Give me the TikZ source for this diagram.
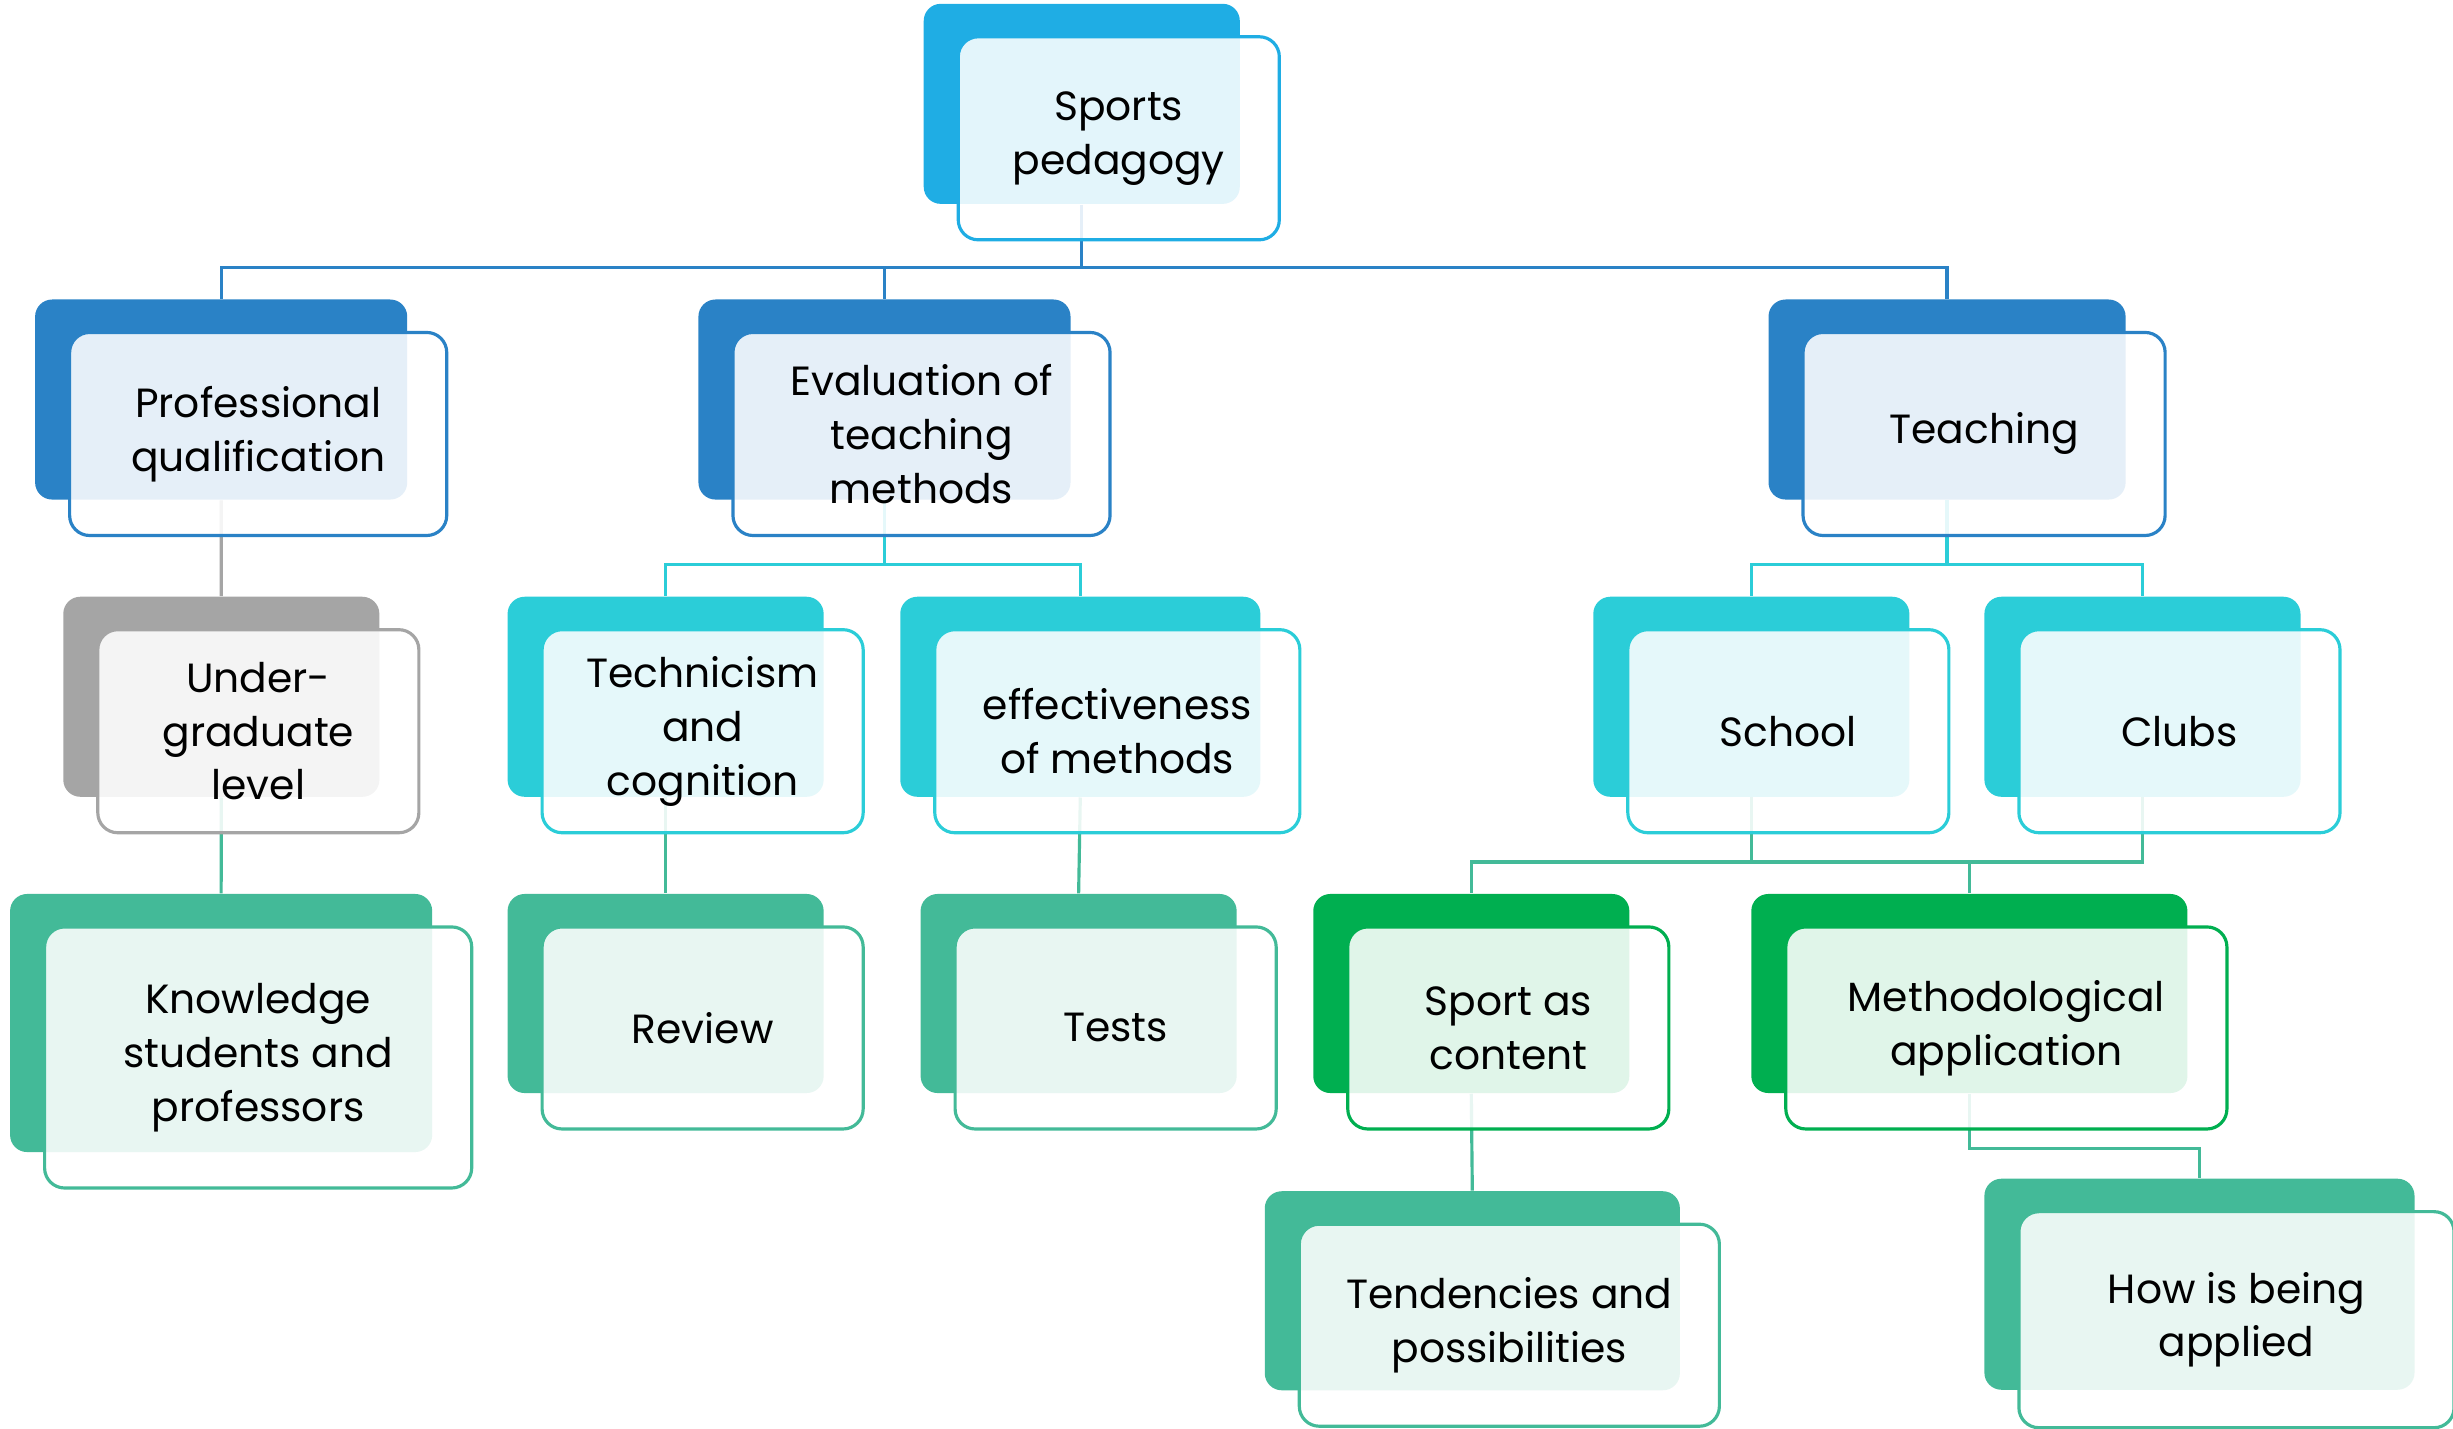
\documentclass[tikz,border=0pt]{standalone}
\usepackage{fontspec}
\setmainfont{Poppins}
\usepackage{tikz}

\definecolor{skyblue}{HTML}{1FADE4}
\definecolor{deepblue}{HTML}{2A82C6}
\definecolor{midgray}{HTML}{A5A5A5}
\definecolor{aqua}{HTML}{2BCDD8}
\definecolor{seagreen}{HTML}{43BA98}
\definecolor{leafgreen}{HTML}{00AF50}

\begin{document}
\begin{tikzpicture}[x=0.015645cm, y=-0.015645cm,
        back/.style={fill=#1, rounded corners=.17cm, anchor=north west, inner sep=0pt},
        front/.style={draw=#1, line width=.9pt, fill=white, fill opacity=.88, text opacity=1,
            rounded corners=.2cm, anchor=north west, inner sep=0pt, align=center,
            font=\fontsize{11.6}{15.3}\selectfont},
        link/.style={draw=#1, line width=.9pt}]

            \useasboundingbox (0,0) rectangle (1568,913);

            % back plates
            \node[back=skyblue, minimum width=3.16cm, minimum height=2cm] (sportsB) at (590,2) {};
            \node[back=deepblue, minimum width=3.72cm, minimum height=2cm] (profB) at (22,191) {};
            \node[back=deepblue, minimum width=3.72cm, minimum height=2cm] (evalB) at (446,191) {};
            \node[back=deepblue, minimum width=3.57cm, minimum height=2cm] (teachB) at (1130,191) {};
            \node[back=midgray, minimum width=3.16cm, minimum height=2cm] (underB) at (40,381) {};
            \node[back=aqua, minimum width=3.16cm, minimum height=2cm] (techB) at (324,381) {};
            \node[back=aqua, minimum width=3.6cm, minimum height=2cm] (effectB) at (575,381) {};
            \node[back=aqua, minimum width=3.16cm, minimum height=2cm] (schoolB) at (1018,381) {};
            \node[back=aqua, minimum width=3.16cm, minimum height=2cm] (clubsB) at (1268,381) {};
            \node[back=seagreen, minimum width=4.22cm, minimum height=2.58cm] (knowB) at (6,571) {};
            \node[back=seagreen, minimum width=3.16cm, minimum height=1.99cm] (reviewB) at (324,571) {};
            \node[back=seagreen, minimum width=3.16cm, minimum height=1.99cm] (testsB) at (588,571) {};
            \node[back=leafgreen, minimum width=3.16cm, minimum height=1.99cm] (contentB) at (839,571) {};
            \node[back=leafgreen, minimum width=4.36cm, minimum height=1.99cm] (methB) at (1119,571) {};
            \node[back=seagreen, minimum width=4.15cm, minimum height=1.99cm] (tendB) at (808,761) {};
            \node[back=seagreen, minimum width=4.3cm, minimum height=2.11cm] (howB) at (1268,753) {};

            % bus lines
            \coordinate (bus0) at (0,171);
            \coordinate (bus1) at (0,361);
            \coordinate (bus2) at (0,551);
            \coordinate (bus3) at (0,734);

            \draw[link=deepblue] (sportsB.south) -- (sportsB.south |- bus0) -| (profB.north);
            \draw[link=deepblue] (sportsB.south |- bus0) -| (evalB.north);
            \draw[link=deepblue] (sportsB.south |- bus0) -| (teachB.north);
            \draw[link=midgray] (profB.south) -- (underB.north);
            \draw[link=seagreen] (underB.south) -- (knowB.north);
            \draw[link=aqua] (evalB.south) -- (evalB.south |- bus1) -| (techB.north);
            \draw[link=aqua] (evalB.south |- bus1) -| (effectB.north);
            \draw[link=aqua] (teachB.south) -- (teachB.south |- bus1) -| (schoolB.north);
            \draw[link=aqua] (teachB.south |- bus1) -| (clubsB.north);
            \draw[link=seagreen] (techB.south) -- (reviewB.north);
            \draw[link=seagreen] (effectB.south) -- (testsB.north);
            \draw[link=seagreen] (schoolB.south) -- (schoolB.south |- bus2) -| (contentB.north);
            \draw[link=seagreen] (schoolB.south |- bus2) -| (methB.north);
            \draw[link=seagreen] (clubsB.south) -- (clubsB.south |- bus2) -| (methB.north);
            \draw[link=seagreen] (contentB.south) -- (tendB.north);
            \draw[link=seagreen] (methB.south) -- (methB.south |- bus3) -| (howB.north);

            % front cards
            \node[front=skyblue, minimum width=3.21cm, minimum height=2.03cm] (sports) at ([shift={(21.5,20.5)}]sportsB.north west) {Sports\\pedagogy};
            \node[front=deepblue, minimum width=3.77cm, minimum height=2.03cm] (prof) at ([shift={(21.5,20.5)}]profB.north west) {Professional\\qualification};
            \node[front=deepblue, minimum width=3.77cm, minimum height=2.03cm] (eval) at ([shift={(21.5,20.5)}]evalB.north west) {Evaluation of\\teaching\\methods};
            \node[front=deepblue, minimum width=3.62cm, minimum height=2.03cm] (teach) at ([shift={(21.5,20.5)}]teachB.north west) {Teaching};
            \node[front=midgray, minimum width=3.21cm, minimum height=2.03cm] (under) at ([shift={(21.5,20.5)}]underB.north west) {Under-\\graduate\\level};
            \node[front=aqua, minimum width=3.21cm, minimum height=2.03cm] (tech) at ([shift={(21.5,20.5)}]techB.north west) {Technicism\\and\\cognition};
            \node[front=aqua, minimum width=3.65cm, minimum height=2.03cm] (effect) at ([shift={(21.5,20.5)}]effectB.north west) {effectiveness\\of methods};
            \node[front=aqua, minimum width=3.21cm, minimum height=2.03cm] (school) at ([shift={(21.5,20.5)}]schoolB.north west) {School};
            \node[front=aqua, minimum width=3.21cm, minimum height=2.03cm] (clubs) at ([shift={(21.5,20.5)}]clubsB.north west) {Clubs};
            \node[front=seagreen, minimum width=4.27cm, minimum height=2.61cm] (know) at ([shift={(21.5,20.5)}]knowB.north west) {Knowledge\\students and\\professors};
            \node[front=seagreen, minimum width=3.21cm, minimum height=2.02cm] (review) at ([shift={(21.5,20.5)}]reviewB.north west) {Review};
            \node[front=seagreen, minimum width=3.21cm, minimum height=2.02cm] (tests) at ([shift={(21.5,20.5)}]testsB.north west) {Tests};
            \node[front=leafgreen, minimum width=3.21cm, minimum height=2.02cm] (content) at ([shift={(21.5,20.5)}]contentB.north west) {Sport as\\content};
            \node[front=leafgreen, minimum width=4.41cm, minimum height=2.02cm] (meth) at ([shift={(21.5,20.5)}]methB.north west) {Methodological\\application};
            \node[front=seagreen, minimum width=4.2cm, minimum height=2.02cm] (tend) at ([shift={(21.5,20.5)}]tendB.north west) {Tendencies and\\possibilities};
            \node[front=seagreen, minimum width=4.35cm, minimum height=2.16cm] (how) at ([shift={(21.5,20.5)}]howB.north west) {How is being\\applied};

        \end{tikzpicture}
\end{document}
